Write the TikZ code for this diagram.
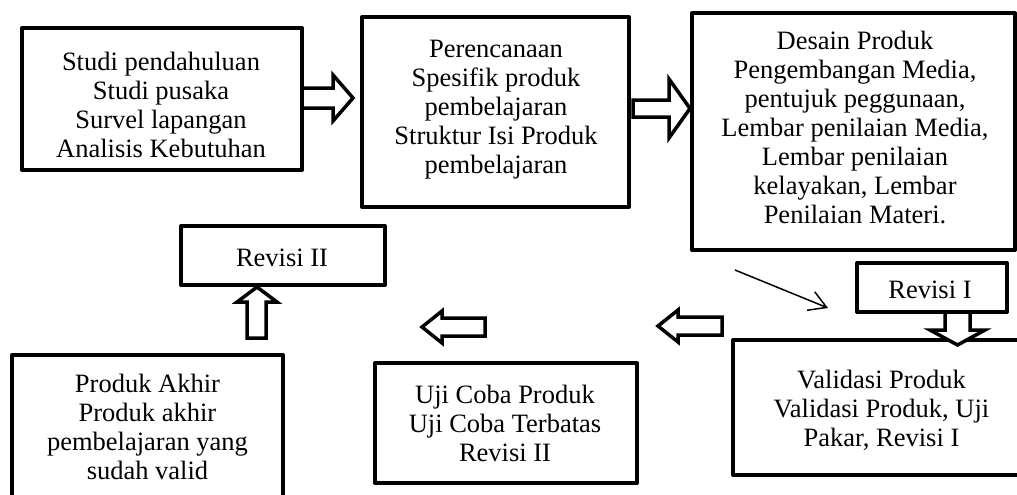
\documentclass[tikz,border=0pt]{standalone}
\usepackage{fontspec}
\setmainfont{Liberation Serif}
\usetikzlibrary{arrows.meta}
\begin{document}
\begin{tikzpicture}[x=1pt,y=-1pt,
  box/.style={draw=black, line width=4pt, rectangle, inner sep=0pt, line join=round},
  txt/.style={align=center, inner sep=0pt, font=\fontsize{26.5}{29}\selectfont},
  blockarrow/.style={draw=black, line width=3.5pt, fill=white, line join=miter},
  thinarrow/.style={draw=black, line width=1.5pt, -{Straight Barb[length=17pt,width=20pt,line width=1.5pt]}}]
\useasboundingbox (0,0) rectangle (1017,495);
\clip (0,0) rectangle (1017,495);
% boxes
\node[box, minimum width=280pt, minimum height=142pt] (b1) at (162,99) {};
\node[box, minimum width=267pt, minimum height=190pt] (b2) at (495.5,112) {};
\node[box, minimum width=323pt, minimum height=237pt] (b3) at (853.5,131.5) {};
\node[box, minimum width=204pt, minimum height=59pt] (r2) at (283,255.5) {};
\node[box, minimum width=150pt, minimum height=49pt] (r1) at (932,287.5) {};
\node[box, minimum width=307pt, minimum height=135pt] (bv) at (886.5,407.5) {};
\node[box, minimum width=262pt, minimum height=120pt] (bu) at (506,423) {};
\node[box, minimum width=271pt, minimum height=165pt] (bp) at (147.5,437.5) {};
% texts
\node[txt] (t1) at (161,105) {Studi pendahuluan\\Studi pusaka\\Survel lapangan\\Analisis Kebutuhan};
\node[txt] (t2) at (496,110) {Perencanaan\\Spesifik produk\\pembelajaran\\Struktur Isi Produk\\pembelajaran};
\node[txt] (t3) at (855,127.5) {Desain Produk\\Pengembangan Media,\\pentujuk peggunaan,\\Lembar penilaian Media,\\Lembar penilaian\\kelayakan, Lembar\\Penilaian Materi.};
\node[txt] (tr2) at (282,258) {Revisi II};
\node[txt] (tr1) at (930,290) {Revisi I};
\node[txt] (tv) at (881.5,410) {Validasi Produk\\Validasi Produk, Uji\\Pakar, Revisi I};
\node[txt] (tu) at (505,423) {Uji Coba Produk\\Uji Coba Terbatas\\Revisi II};
\node[txt] (tp) at (147.5,427) {Produk Akhir\\Produk akhir\\pembelajaran yang\\sudah valid};
% block arrows
\draw[blockarrow] (302,88) -- (333,88) -- (333,75) -- (353,98) -- (333,121) -- (333,108) -- (302,108) -- cycle;
\draw[blockarrow] (633,100) -- (669,100) -- (669,79) -- (690,108.5) -- (669,138) -- (669,117) -- (633,117) -- cycle;
\draw[blockarrow] (722,317) -- (678,317) -- (678,310) -- (658,326) -- (678,342) -- (678,335) -- (722,335) -- cycle;
\draw[blockarrow] (485,318) -- (442,318) -- (442,311) -- (422,327) -- (442,343) -- (442,336) -- (485,336) -- cycle;
\draw[blockarrow] (247,338) -- (247,302) -- (237,302) -- (257,287) -- (277,302) -- (266,302) -- (266,338) -- cycle;
\draw[blockarrow] (945,312) -- (945,330) -- (930,330) -- (957.5,345) -- (985,330) -- (970,330) -- (970,312) -- cycle;
% thin diagonal arrow
\coordinate (d1) at (735,270);
\coordinate (d2) at (828,308);
\draw[thinarrow] (d1) -- (d2);
\end{tikzpicture}
\end{document}
